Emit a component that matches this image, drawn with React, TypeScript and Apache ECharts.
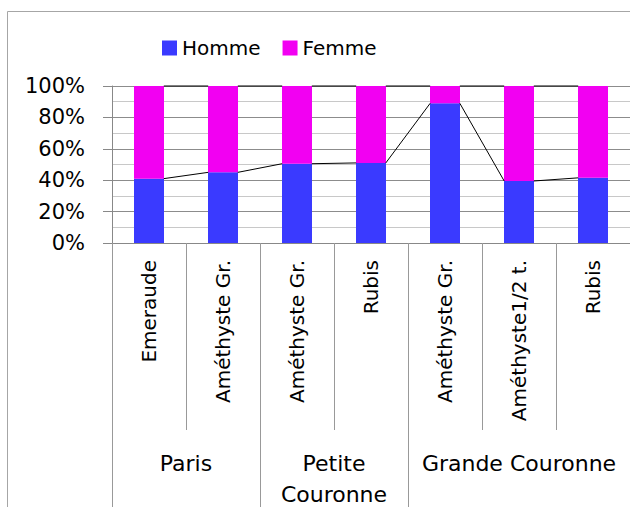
import React, { useEffect, useRef } from "react";
import * as echarts from "echarts";

const categories = ["Emeraude", "Améthyste Gr.", "Améthyste Gr.", "Rubis", "Améthyste Gr.", "Améthyste1/2 t.", "Rubis"];
const hommePct = [41, 45, 50.5, 51, 89, 39.5, 41.5];
const femmePct = [59, 55, 49.5, 49, 11, 60.5, 58.5];
const groupNames = ["Paris", "Petite\nCouronne", "Grande Couronne"];
const groupSizes = [2, 2, 3];
const yTicks = [0, 20, 40, 60, 80, 100];

const FONT = "DejaVu Sans";

export default function App() {
  const ref = useRef<HTMLDivElement>(null);
  useEffect(() => {
    if (!ref.current) return;
    const chart = echarts.init(ref.current, undefined, { renderer: "svg" });

    const bounds: number[] = [0];
    const centers: number[] = [];
    groupSizes.forEach((s) => {
      const start = bounds[bounds.length - 1];
      centers.push(start + s / 2);
      bounds.push(start + s);
    });

    const lineData = hommePct.slice(0, -1).map((v, i) => [
      i,
      v,
      hommePct[i + 1],
      hommePct[i] + femmePct[i],
      hommePct[i + 1] + femmePct[i + 1],
    ]);

    chart.setOption({
      animation: false,
      graphic: [
        {
          type: "rect",
          shape: { x: 7.5, y: 11.5, width: 700, height: 600 },
          style: { fill: "none", stroke: "#a6a6a6", lineWidth: 1 },
          silent: true,
          z: -10,
        },
      ],
      legend: {
        data: ["Homme", "Femme"],
        left: 162,
        top: 38,
        padding: 0,
        itemWidth: 15,
        itemHeight: 15,
        itemGap: 22,
        icon: "rect",
        textStyle: { fontFamily: FONT, fontSize: 20, color: "#000" },
      },
      grid: {
        left: 112,
        top: 86,
        right: 0,
        bottom: 264,
        containLabel: false,
        outerBoundsMode: "none",
      },
      xAxis: [
        {
          type: "category",
          data: categories,
          axisLine: { show: true, lineStyle: { color: "#888", width: 1 } },
          axisTick: { show: true, interval: 0, length: 187, lineStyle: { color: "#999" } },
          axisLabel: {
            interval: 0,
            rotate: 90,
            margin: 17,
            fontFamily: FONT,
            fontSize: 20,
            color: "#000",
          },
          splitLine: { show: false },
        },
        {
          type: "value",
          min: 0,
          max: categories.length,
          position: "bottom",
          axisLine: { show: false },
          axisTick: {
            show: true,
            customValues: bounds,
            length: 264,
            lineStyle: { color: "#999" },
          },
          axisLabel: {
            customValues: centers,
            formatter: (v: number) => {
              const idx = centers.findIndex((c) => Math.abs(c - v) < 1e-6);
              return idx >= 0 ? groupNames[idx] : "";
            },
            margin: 205,
            fontFamily: FONT,
            fontSize: 22,
            lineHeight: 31,
            color: "#000",
            align: "center",
          },
          splitLine: { show: false },
        },
      ],
      yAxis: {
        type: "value",
        min: 0,
        max: 100,
        interval: 20,
        axisLine: { show: true, lineStyle: { color: "#888" } },
        axisTick: { show: true, length: 9, lineStyle: { color: "#888" } },
        axisLabel: {
          formatter: (v: number) => (yTicks.includes(v) ? v + "%" : ""),
          margin: 27,
          fontFamily: FONT,
          fontSize: 21,
          color: "#000",
        },
        splitLine: { show: true, lineStyle: { color: "#8c8c8c", width: 1 } },
        minorTick: { show: false, splitNumber: 2 },
        minorSplitLine: { show: true, lineStyle: { color: "#c8c8c8", width: 1 } },
      },
      series: [
        {
          name: "Homme",
          type: "bar",
          stack: "total",
          barWidth: 30,
          data: hommePct,
          itemStyle: { color: "#3a3aff" },
        },
        {
          name: "Femme",
          type: "bar",
          stack: "total",
          barWidth: 30,
          data: femmePct,
          itemStyle: { color: "#f200f2" },
        },
        {
          name: "seriesLines",
          type: "custom",
          z: 5,
          data: lineData,
          encode: { x: 0, y: 1 },
          renderItem: (params: any, api: any) => {
            const i = api.value(0);
            const half = api.size([1, 0])[0] * 0.2;
            const a1 = api.coord([i, api.value(1)]);
            const a2 = api.coord([i + 1, api.value(2)]);
            const b1 = api.coord([i, api.value(3)]);
            const b2 = api.coord([i + 1, api.value(4)]);
            return {
              type: "group",
              children: [
                {
                  type: "line",
                  shape: { x1: a1[0] + half, y1: a1[1], x2: a2[0] - half, y2: a2[1] },
                  style: { stroke: "#000", lineWidth: 1 },
                },
                {
                  type: "line",
                  shape: { x1: b1[0] + half, y1: b1[1], x2: b2[0] - half, y2: b2[1] },
                  style: { stroke: "#000", lineWidth: 1 },
                },
              ],
            };
          },
        },
      ],
    });
    return () => chart.dispose();
  }, []);

  return (
    <div
      ref={ref}
      style={{ position: "fixed", left: 0, top: 0, width: 630, height: 507, background: "#fff" }}
    />
  );
}
